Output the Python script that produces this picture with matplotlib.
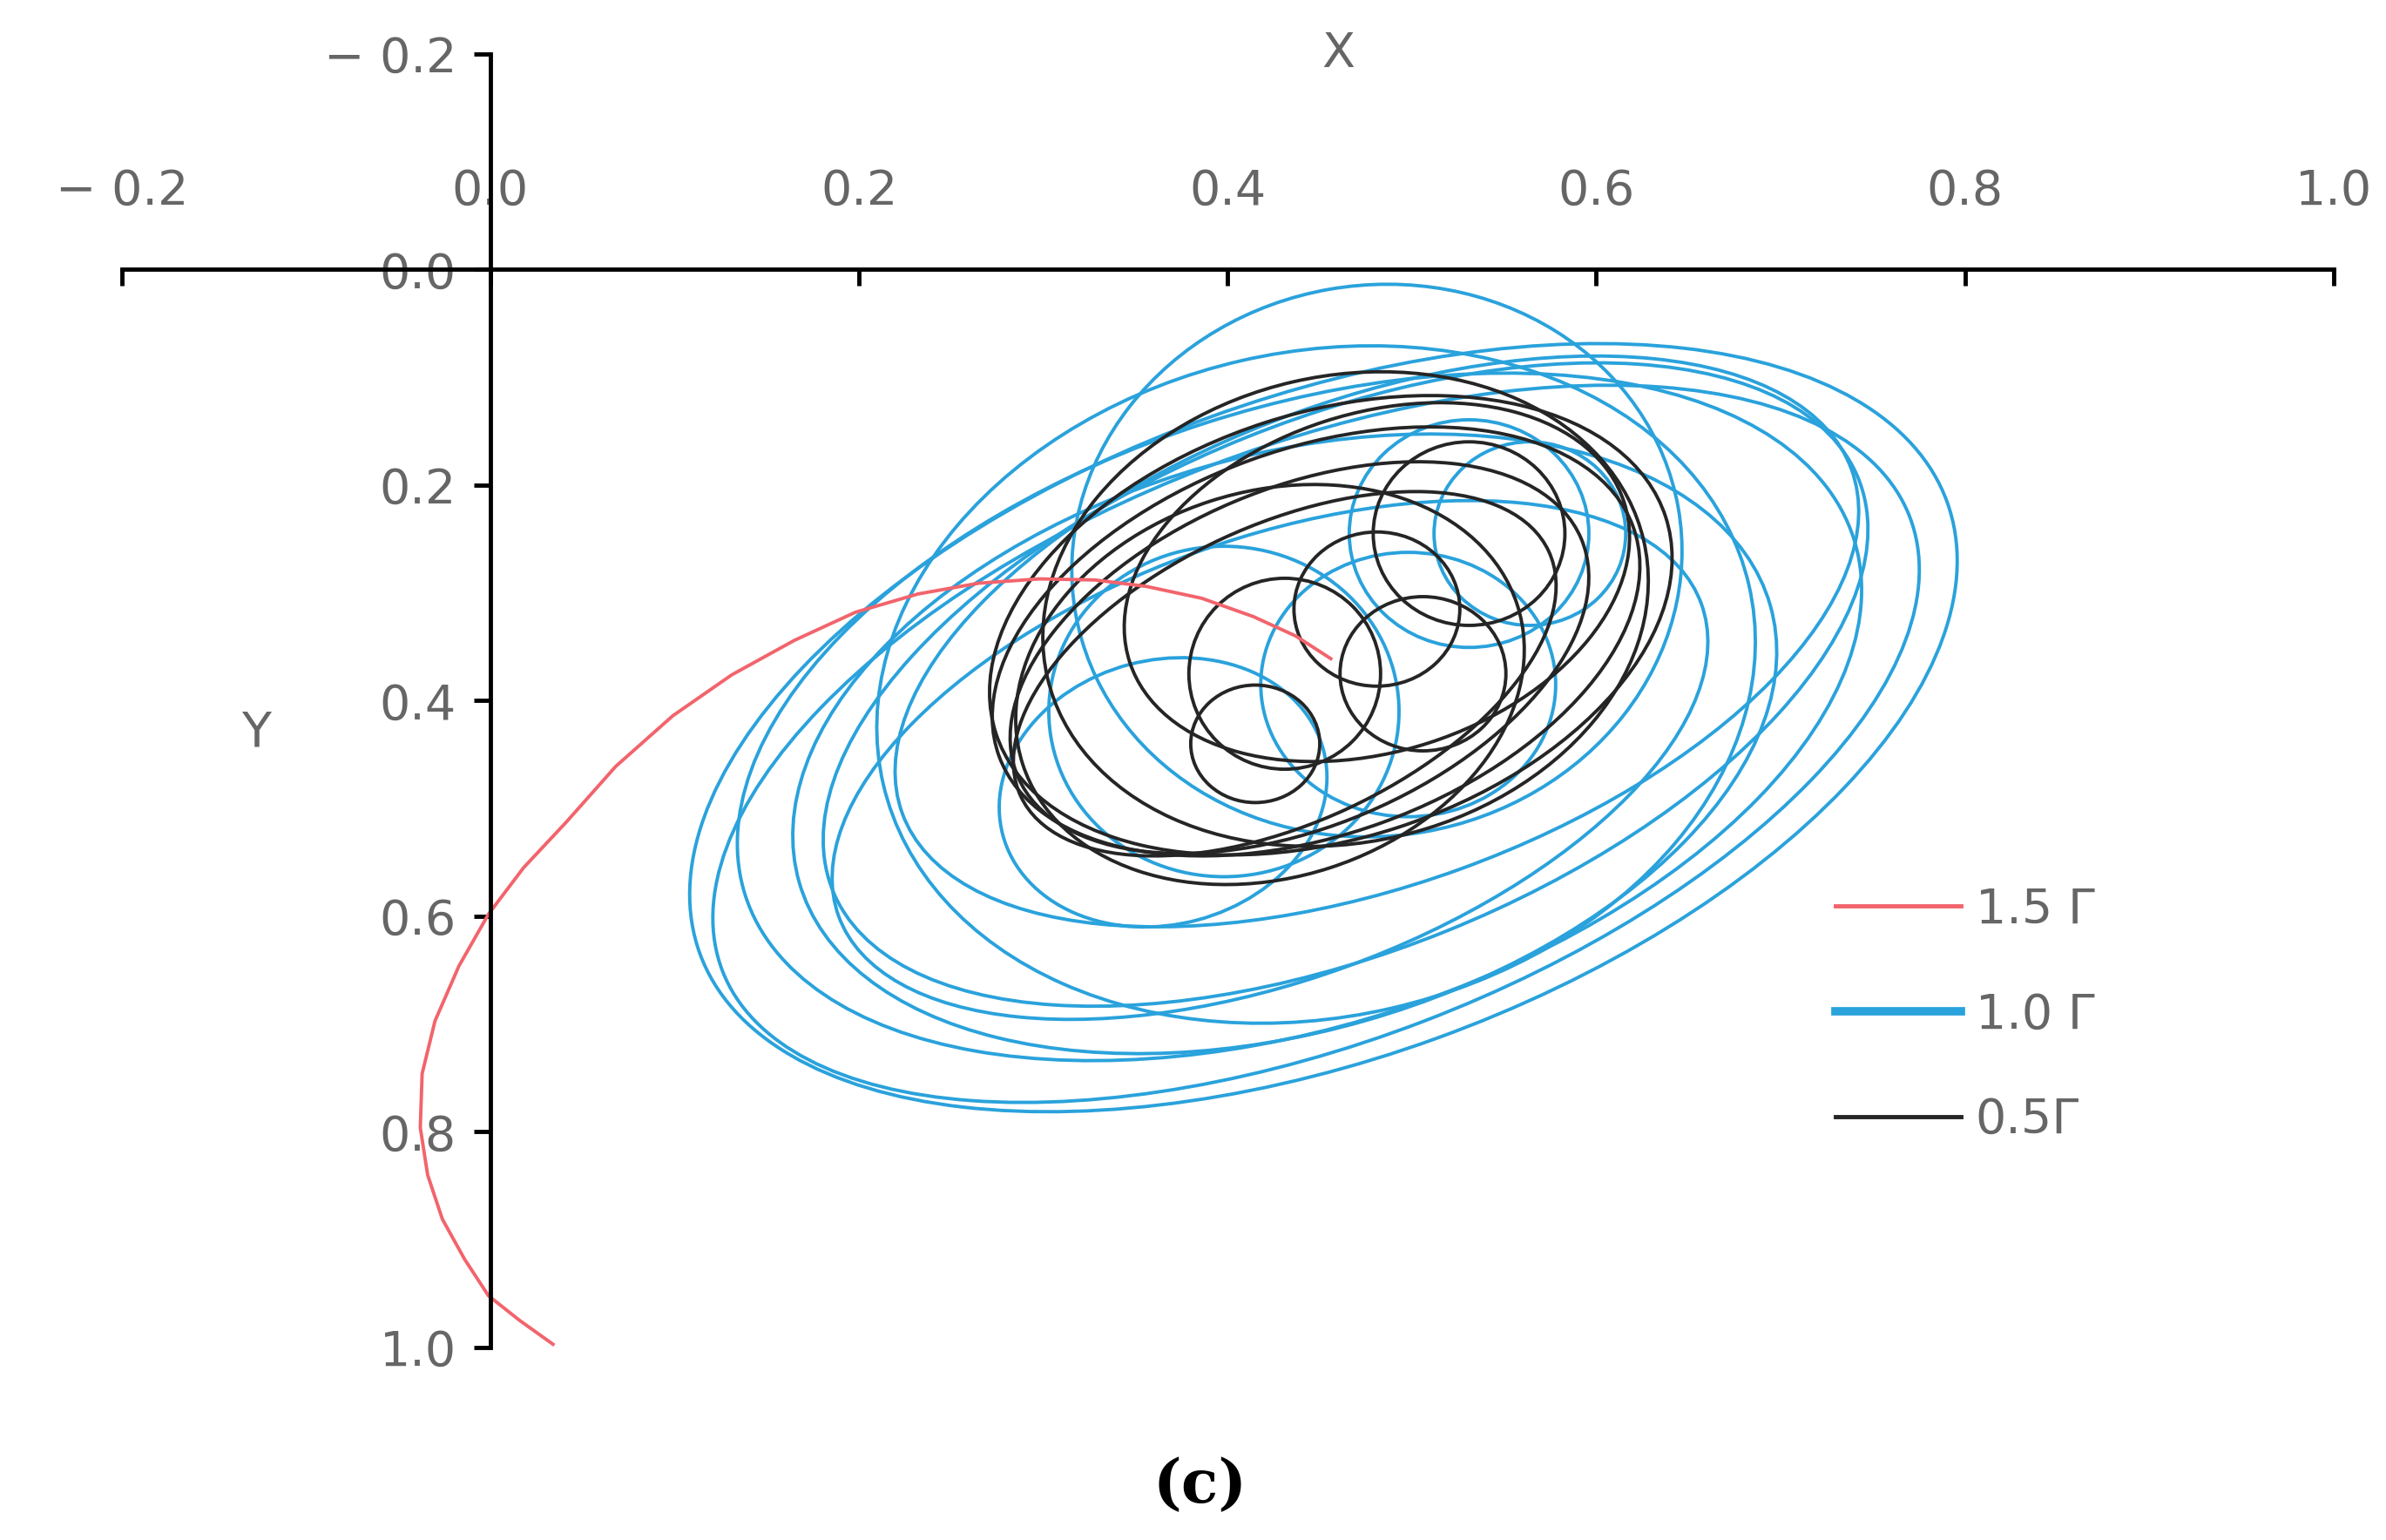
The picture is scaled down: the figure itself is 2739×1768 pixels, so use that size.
import matplotlib
matplotlib.use("Agg")
import matplotlib.pyplot as plt
from matplotlib.patches import Ellipse
from matplotlib.transforms import Affine2D

# ellipse loops: (cx, cy, semi-major [x units], semi-minor [x units], angle deg)
blue_loops = [
    (0.452, 0.425, 0.360, 0.180, 20), (0.448, 0.440, 0.345, 0.162, 21),
    (0.439, 0.415, 0.316, 0.168, 18), (0.464, 0.385, 0.300, 0.145, 22),
    (0.431, 0.440, 0.274, 0.157, 16), (0.481, 0.345, 0.274, 0.132, 20),
    (0.448, 0.385, 0.241, 0.181, 13), (0.423, 0.455, 0.249, 0.120, 20),
    (0.481, 0.270, 0.166, 0.150, 10), (0.398, 0.410, 0.095, 0.090, 0),
    (0.498, 0.385, 0.080, 0.072, 0), (0.531, 0.245, 0.065, 0.062, 0),
    (0.564, 0.245, 0.052, 0.050, 0), (0.365, 0.485, 0.090, 0.072, 15),
]
black_loops = [
    (0.448, 0.345, 0.183, 0.105, 20), (0.439, 0.360, 0.166, 0.092, 23),
    (0.456, 0.330, 0.191, 0.116, 18), (0.431, 0.375, 0.158, 0.081, 25),
    (0.464, 0.315, 0.166, 0.127, 13), (0.423, 0.385, 0.141, 0.105, 18),
    (0.481, 0.290, 0.141, 0.092, 18), (0.431, 0.375, 0.052, 0.052, 0),
    (0.481, 0.315, 0.045, 0.042, 0), (0.506, 0.375, 0.045, 0.042, 0),
    (0.415, 0.440, 0.035, 0.032, 0), (0.531, 0.245, 0.052, 0.050, 0),
]
red_x = [0.034, 0.016, -0.001, -0.014, -0.026, -0.034, -0.038, -0.037, -0.030, -0.017,
         -0.001, 0.018, 0.041, 0.068, 0.099, 0.131, 0.165, 0.198, 0.232, 0.265, 0.298,
         0.328, 0.356, 0.386, 0.414, 0.437, 0.456]
red_y = [0.997, 0.975, 0.952, 0.918, 0.881, 0.840, 0.796, 0.746, 0.697, 0.646,
         0.598, 0.555, 0.513, 0.461, 0.414, 0.376, 0.344, 0.318, 0.301, 0.291, 0.287,
         0.288, 0.294, 0.305, 0.322, 0.340, 0.361]
x_ticks = [-0.2, 0.0, 0.2, 0.4, 0.6, 0.8, 1.0]
x_labels = ["\u2212 0.2", "0.0", "0.2", "0.4", "0.6", "0.8", "1.0"]
y_ticks = [-0.2, 0.0, 0.2, 0.4, 0.6, 0.8, 1.0]
y_labels = ["\u2212 0.2", "0.0", "0.2", "0.4", "0.6", "0.8", "1.0"]

BLUE = "#2aa2dc"; RED = "#f2646c"; BLACK = "#252525"; GRAY = "#666666"
YS = 707 / 1204  # visual y-scale relative to x

fig = plt.figure(figsize=(27.39, 17.68), dpi=100)
ax = fig.add_axes([0.051, 0.125, 0.927, 0.84])
ax.set_xlim(-0.2, 1.0)
ax.set_ylim(1.0, -0.2)

tr = Affine2D().scale(1, 1 / YS) + ax.transData
def draw(loops, color):
    for cx, cy, a, b, ang in loops:
        e = Ellipse((cx, cy * YS), 2 * a, 2 * b, angle=-ang, fill=False,
                    edgecolor=color, lw=2.8, transform=tr)
        ax.add_patch(e)
draw(blue_loops, BLUE)
draw(black_loops, BLACK)
ax.plot(red_x, red_y, color=RED, lw=2.8)

for s in ["right", "bottom"]:
    ax.spines[s].set_visible(False)
ax.spines["left"].set_position(("data", 0))
ax.spines["top"].set_position(("data", 0))
for s in ["left", "top"]:
    ax.spines[s].set_linewidth(3.5); ax.spines[s].set_color("black")
ax.xaxis.set_ticks_position("top")
ax.set_xticks(x_ticks, x_labels)
ax.set_yticks(y_ticks, y_labels)
ax.tick_params(axis="x", direction="in", length=14, width=3.5, pad=45,
               labelsize=40, labelcolor=GRAY)
ax.tick_params(axis="y", direction="out", length=14, width=3.5, pad=14,
               labelsize=40, labelcolor=GRAY)
ax.text(0.46, -0.2, "X", fontsize=40, color=GRAY, ha="center", va="center")
ax.text(-0.127, 0.43, "Y", fontsize=40, color=GRAY, ha="center", va="center")

h1, = ax.plot([], [], color=RED, lw=3.5)
h2, = ax.plot([], [], color=BLUE, lw=7)
h3, = ax.plot([], [], color=BLACK, lw=3.5)
leg = ax.legend([h1, h2, h3], ["1.5 \u0393", "1.0 \u0393", "0.5\u0393"],
                loc="upper left", bbox_to_anchor=(0.755, 0.39), frameon=False,
                fontsize=40, handlelength=2.6, handletextpad=0.3, labelspacing=1.2)
for t in leg.get_texts():
    t.set_color(GRAY)

fig.text(0.503, 0.035, "(c)", fontsize=50, family="DejaVu Serif", weight="bold",
         ha="center", va="center", color="black")
fig.savefig("out.png", dpi=100)
